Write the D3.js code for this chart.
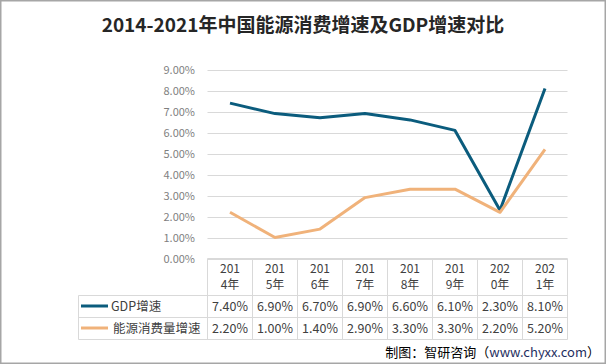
<!DOCTYPE html>
<html><head><meta charset="utf-8">
<script src="https://cdn.jsdelivr.net/npm/d3@7"></script>
<style>body{margin:0;background:#fff}svg{display:block}</style>
</head><body>
<script>
const categories = ["2014年","2015年","2016年","2017年","2018年","2019年","2020年","2021年"];
const gdp = [7.4, 6.9, 6.7, 6.9, 6.6, 6.1, 2.3, 8.1];
const energy = [2.2, 1.0, 1.4, 2.9, 3.3, 3.3, 2.2, 5.2];
const seriesNames = ["GDP增速", "能源消费量增速"];
const yTicks = [0,1,2,3,4,5,6,7,8,9];
const title = "2014-2021年中国能源消费增速及GDP增速对比";

const W = 606, H = 364;
const font = "'Noto Sans CJK SC','Noto Sans',sans-serif";
const colors = ["#0b5c7d", "#f0b27a"];
const svg = d3.select("body").append("svg").attr("width", W).attr("height", H);

svg.append("rect").attr("x",0.75).attr("y",0.75).attr("width",W-1.5).attr("height",H-1.5)
  .attr("fill","#fff").attr("stroke","#a6a6a6").attr("stroke-width",1.5);

svg.append("text").attr("x",303).attr("y",32).attr("text-anchor","middle")
  .attr("font-family",font).attr("font-weight","bold").attr("font-size",19).attr("fill","#262626")
  .text(title);

const x = d3.scaleBand().domain(categories).range([207.5, 567.5]);
const y = d3.scaleLinear().domain([0, 9]).range([258.5, 69.5]);

// gridlines
svg.append("g").selectAll("line").data(yTicks).join("line")
  .attr("x1", 207.5).attr("x2", 567.5)
  .attr("y1", d => Math.round(y(d)) + 0.5).attr("y2", d => Math.round(y(d)) + 0.5)
  .attr("stroke", "#d9d9d9").attr("stroke-width", 1);

// y axis labels
const yAxis = d3.axisLeft(y).tickValues(yTicks).tickSize(0).tickPadding(0)
  .tickFormat(d => d.toFixed(2) + "%");
const ga = svg.append("g").attr("transform", "translate(195,0)").call(yAxis);
ga.select(".domain").remove();
ga.selectAll("text").attr("font-family", font).attr("font-size", 11).attr("fill", "#7f7f7f");

// lines
const line = d3.line().x((d, i) => x(categories[i]) + x.bandwidth() / 2).y(d => y(d));
[gdp, energy].forEach((s, k) => {
  svg.append("path").datum(s).attr("d", line).attr("fill", "none")
    .attr("stroke", colors[k]).attr("stroke-width", 3).attr("stroke-linejoin", "round");
});

// table
const tg = svg.append("g");
const rowTop = 258.5, headBot = 295.5, r1Bot = 317.5, r2Bot = 339.5, legLeft = 78.5;
const gridC = "#d9d9d9";
[[207.5, rowTop, 567.5, rowTop], [legLeft, headBot, 567.5, headBot], [legLeft, r1Bot, 567.5, r1Bot], [legLeft, r2Bot, 567.5, r2Bot],
 [legLeft, headBot, legLeft, r2Bot]].forEach(l => {
  tg.append("line").attr("x1", l[0]).attr("y1", l[1]).attr("x2", l[2]).attr("y2", l[3]).attr("stroke", gridC);
});
categories.forEach((c, i) => {
  tg.append("line").attr("x1", x(c)).attr("x2", x(c)).attr("y1", rowTop).attr("y2", r2Bot).attr("stroke", gridC);
});
tg.append("line").attr("x1", 567.5).attr("x2", 567.5).attr("y1", rowTop).attr("y2", r2Bot).attr("stroke", gridC);

categories.forEach((c, i) => {
  const cx = x(c) + x.bandwidth() / 2;
  const t = tg.append("text").attr("text-anchor", "middle").attr("font-family", font)
    .attr("font-size", 12).attr("fill", "#404040");
  t.append("tspan").attr("x", cx).attr("y", 273).text(c.slice(0, 3));
  t.append("tspan").attr("x", cx).attr("y", 289).text(c.slice(3));
  [gdp, energy].forEach((s, k) => {
    tg.append("text").attr("x", cx).attr("y", k === 0 ? 310.5 : 332.5).attr("text-anchor", "middle")
      .attr("font-family", font).attr("font-size", 12.5).attr("fill", "#404040")
      .text(s[i].toFixed(2) + "%");
  });
});
seriesNames.forEach((n, k) => {
  const cy = k === 0 ? 306 : 328;
  tg.append("line").attr("x1", 81).attr("x2", 108).attr("y1", cy).attr("y2", cy)
    .attr("stroke", colors[k]).attr("stroke-width", 3);
  tg.append("text").attr("x", k === 0 ? 111 : 113).attr("y", cy + 4.5).attr("font-family", font)
    .attr("font-size", 12.5).attr("fill", "#404040").text(n);
});

// source
const st = svg.append("text").attr("x", 600).attr("y", 357).attr("text-anchor", "end")
  .attr("font-family", font).attr("font-size", 13).attr("fill", "#000");
st.append("tspan").text("制图：智研咨询（");
st.append("tspan").attr("fill", "#1f2f5f").text("www.chyxx.com");
st.append("tspan").text("）");
</script>
</body></html>
